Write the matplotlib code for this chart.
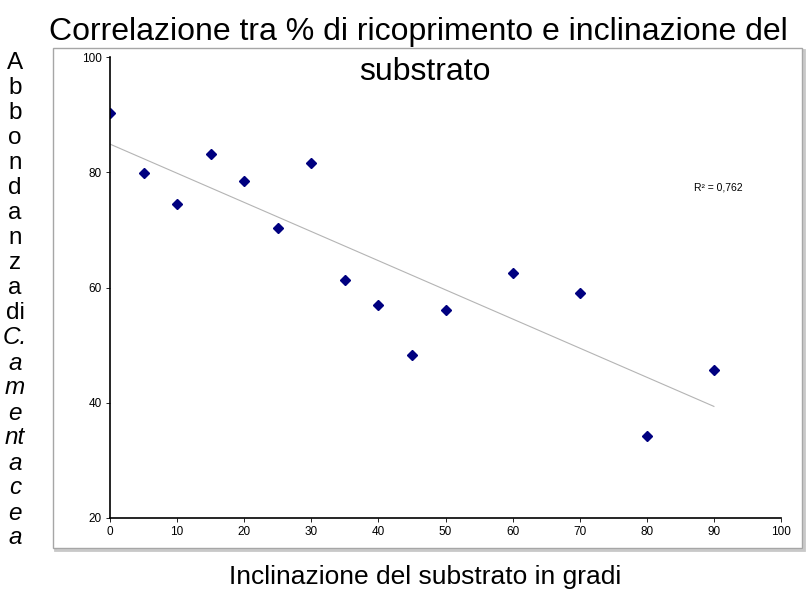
import numpy as np
import matplotlib.pyplot as plt
from matplotlib.patches import Rectangle

plt.rcParams['font.family'] = ['Liberation Sans', 'DejaVu Sans']

inclinazione = [0, 5, 10, 15, 20, 25, 30, 35, 40, 45, 50, 60, 70, 80, 90]  # gradi
abbondanza = [90.3, 79.9, 74.5, 83.2, 78.5, 70.4, 81.7, 61.4, 57.0, 48.3, 56.2, 62.5, 59.1, 34.2, 45.7]
x_ticks = [0, 10, 20, 30, 40, 50, 60, 70, 80, 90, 100]
y_ticks = [20, 40, 60, 80, 100]
r2_label = "R² = 0,762"

W, H = 811, 589
fig = plt.figure(figsize=(W / 100, H / 100), dpi=100)

# chart area border with a little shadow (Excel style)
fig.patches.append(Rectangle((55 / W, 1 - 550 / H), 749 / W, 500 / H, transform=fig.transFigure,
                             facecolor='none', edgecolor='#c8c8c8', lw=2.0, zorder=-2))
fig.patches.append(Rectangle((53 / W, 1 - 548 / H), 749 / W, 500 / H, transform=fig.transFigure,
                             facecolor='white', edgecolor='#a6a6a6', lw=1.0, zorder=-1))

ax = fig.add_axes([110 / W, 1 - 518 / H, 671 / W, 460.7 / H], zorder=1)
ax.patch.set_alpha(0)

x = np.array(inclinazione)
y = np.array(abbondanza)
m, q = np.polyfit(x, y, 1)
xs = np.array([x.min(), x.max()])
ax.plot(xs, m * xs + q, color='#b4b4b4', lw=0.8, zorder=1)
ax.plot(x, y, 'D', color='#000080', markersize=5, zorder=2)

ax.set_xlim(0, 100)
ax.set_ylim(20, 100)
ax.set_xticks(x_ticks)
ax.set_yticks(y_ticks)
ax.tick_params(labelsize=8.5, length=3, width=0.6, direction='out', pad=3)
for s in ['top', 'right']:
    ax.spines[s].set_visible(False)
for s in ['left', 'bottom']:
    ax.spines[s].set_linewidth(1.2)

ax.text(0.871, 0.71, r2_label, transform=ax.transAxes, fontsize=7.5)

fig.text(418 / W, 1 - 32 / H, "Correlazione tra % di ricoprimento e inclinazione del",
         ha='center', va='center', fontsize=23)
fig.text(425 / W, 1 - 72 / H, "substrato", ha='center', va='center', fontsize=23)

fig.text(425 / W, 1 - 577 / H, "Inclinazione del substrato in gradi",
         ha='center', va='center', fontsize=19)

# vertical y label, one piece per line as in the original
pezzi = ["A", "b", "b", "o", "n", "d", "a", "n", "z", "a", "di",
         "C.", "a", "m", "e", "nt", "a", "c", "e", "a"]
for i, p in enumerate(pezzi):
    fig.text(15 / W, 1 - (63 + i * 25) / H, p, ha='center', va='center', fontsize=17.5,
             style='italic' if i >= 11 else 'normal')

fig.savefig('out.png', dpi=100)
